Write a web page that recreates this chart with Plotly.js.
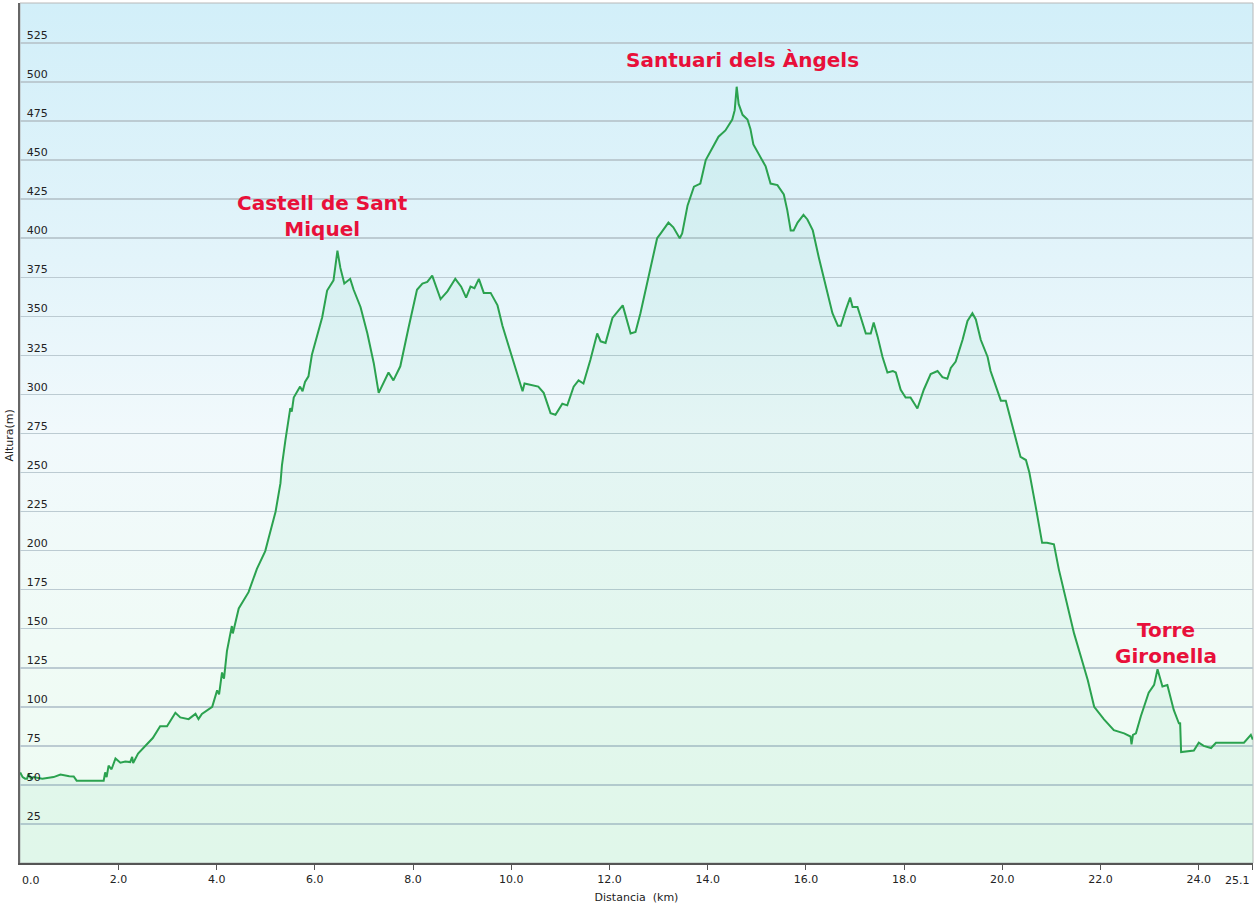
<!DOCTYPE html>
<html>
<head>
<meta charset="utf-8">
<script src="https://cdn.plot.ly/plotly-3.0.1.min.js"></script>
<style>
  html, body { margin:0; padding:0; background:#ffffff; }
  #wrap { position:relative; width:1260px; height:910px; }
  #bg { position:absolute; left:20px; top:3px; width:1233px; height:860px;
        background: linear-gradient(to bottom, #d2eff9 0%, #e3f4fa 30%, #f1f9fc 50%, #f0fbf6 75%, #edfbf1 100%); }
  #chart { position:absolute; left:0; top:0; width:1260px; height:910px; }
</style>
</head>
<body>
<div id="wrap"><div id="bg"></div><div id="chart"></div></div>
<script>
// Distance (km)
const distance = [
 0.00,0.05,0.10,0.14,0.17,0.22,0.27,0.45,0.68,0.82,1.00,1.09,1.15,1.40,1.70,1.73,1.76,1.80,1.86,1.94,
 2.04,2.14,2.24,2.28,2.30,2.40,2.55,2.70,2.85,2.99,3.16,3.26,3.43,3.57,3.63,3.70,3.91,4.01,4.05,4.11,
 4.15,4.21,4.31,4.33,4.45,4.65,4.82,4.99,5.05,5.09,5.20,5.30,5.33,5.40,5.50,5.53,5.57,5.70,5.75,5.80,
 5.87,5.94,6.04,6.15,6.25,6.28,6.35,6.38,6.46,6.52,6.60,6.72,6.79,6.93,7.07,7.20,7.30,7.40,7.50,7.60,
 7.74,7.91,8.08,8.19,8.29,8.39,8.56,8.70,8.86,8.98,9.08,9.17,9.25,9.34,9.44,9.58,9.72,9.82,10.02,10.23,
 10.27,10.55,10.66,10.80,10.90,11.04,11.14,11.27,11.37,11.47,11.61,11.75,11.82,11.92,12.06,12.27,12.43,12.53,12.63,12.77,
 12.97,13.04,13.20,13.30,13.43,13.48,13.59,13.72,13.85,13.96,14.10,14.22,14.36,14.50,14.55,14.59,14.63,14.71,14.81,14.87,
 14.93,15.00,15.08,15.18,15.28,15.42,15.55,15.62,15.69,15.75,15.83,15.95,16.03,16.14,16.26,16.40,16.54,16.65,16.71,16.81,
 16.90,16.95,17.05,17.11,17.22,17.32,17.38,17.46,17.56,17.66,17.77,17.83,17.93,18.03,18.13,18.27,18.40,18.54,18.68,18.78,
 18.88,18.95,19.05,19.19,19.29,19.39,19.46,19.56,19.70,19.76,19.87,19.97,20.07,20.14,20.24,20.37,20.48,20.55,20.68,20.81,
 20.91,21.05,21.15,21.25,21.35,21.46,21.60,21.74,21.87,22.07,22.27,22.48,22.61,22.63,22.66,22.72,22.82,22.98,23.09,23.16,
 23.26,23.36,23.49,23.60,23.62,23.64,23.90,24.00,24.10,24.25,24.35,24.65,24.92,25.06,25.10
];
// Elevation (m)
const altitude = [
 58,55,54,54,57,54,55,54,55,56.6,55.5,55.4,52.7,52.5,52.7,58,55,62.3,60,66.9,
 64.2,65,64.6,68,64,70,75,80,87.5,87.5,96.2,93.2,92.1,95.5,92.1,95.5,100,110.5,108,122,
 118,135.7,151.7,147,163,173.4,188.3,199.7,207,212.3,224.9,243.2,254.6,270.6,291.2,289,298,305,302,308,
 311.6,325.4,336.8,349.4,366.5,368,371,373,392,381,371,374,367,356,339,320,301,307,314,309,
 318,343,367,371,372,376,361,366,374,369,362,369,368,374,365,365,357,344,324,302,
 307,305,301,288,287,294,293,305,309,307,322,339,334,333,349,357,339,340,352,371,
 400,403,410,407,400,403,421,433,435,450,458,465,469,476,482,497,486,479,476,470,
 460,456,451,446,435,434,428,418,405,405,410,415,412,405,388,369,352,344,344,354,
 362,356,356,350,339,339,346,337,324,314,315,314,303,298,298,291,303,313,315,311,
 310,317,321,335,347,352,348,335,324,315,305,296,296,288,275,260,258,250,228,205,
 205,204,188,175,162,147,132,117,100,92,85,83,81,76,82,83,94,109,114,124,
 113,114,98,89,90,71,72,77,75,73.6,77,77,77,82,79
];
// Axis ticks (end labels are placed as annotations so they stay inside the page)
const xTickVals = [0.02,2,4,6,8,10,12,14,16,18,20,22,24,25.1];
const xTickText = ['','2.0','4.0','6.0','8.0','10.0','12.0','14.0','16.0','18.0','20.0','22.0','24.0',''];
const xEndLabels = ['0.0','25.1'];
const xEndVals = [0, 25.1];
const yTickVals = [25,50,75,100,125,150,175,200,225,250,275,300,325,350,375,400,425,450,475,500,525];
// Place labels
const placeNames = ['Castell de Sant<br>Miquel','Santuari dels Àngels','Torre<br>Gironella'];
const placeKm = [6.15, 14.71, 23.33];
const placeAlt = [414, 514, 141];

const trace = {
  x: distance, y: altitude, type:'scatter', mode:'lines',
  line:{color:'#2ba24f', width:2},
  fill:'tozeroy', fillcolor:'rgba(60,205,140,0.07)',
  hoverinfo:'x+y'
};

const annotations = placeNames.map((t,i)=>({
  x: placeKm[i], y: placeAlt[i], xref:'x', yref:'y', text:t, showarrow:false,
  font:{family:'DejaVu Sans, Verdana, sans-serif', size:20, color:'#e8103a', weight:'bold'},
  xanchor:'center', yanchor:'middle'
}));
annotations.push({
  x:0, y:0.497, xref:'paper', yref:'paper', xshift:-10, text:'Altura(m)', textangle:-90,
  showarrow:false, xanchor:'center', yanchor:'middle',
  font:{family:'DejaVu Sans, Verdana, sans-serif', size:11, color:'#222'}
});
xEndLabels.forEach((t,i)=>{
  annotations.push({
    x:xEndVals[i], y:0, xref:'x', yref:'paper', text:t, showarrow:false,
    xanchor: i===0 ? 'left' : 'right', yanchor:'top', yshift:-8.5, xshift: i===0 ? 0 : -1,
    font:{family:'DejaVu Sans, Verdana, sans-serif', size:11, color:'#222'}
  });
});

const layout = {
  width:1260, height:910,
  margin:{l:20, r:7, t:3, b:47, pad:0},
  paper_bgcolor:'rgba(0,0,0,0)', plot_bgcolor:'rgba(0,0,0,0)',
  showlegend:false,
  font:{family:'DejaVu Sans, Verdana, sans-serif', size:11, color:'#222'},
  xaxis:{
    range:[-0.004,25.104], tickmode:'array', tickvals:xTickVals, ticktext:xTickText,
    showgrid:false, zeroline:false, showline:true, linecolor:'#555', linewidth:2,
    ticks:'outside', ticklen:5, tickcolor:'#555', tickwidth:1,
    tickfont:{size:11, color:'#222'},
    title:{text:'Distancia&nbsp;&nbsp;(km)', font:{size:11, color:'#222'}, standoff:8}
  },
  yaxis:{
    range:[0,550.6], tickmode:'array', tickvals:yTickVals,
    showgrid:true, gridcolor:'#bccbd2', gridwidth:1.5, zeroline:false,
    showline:true, linecolor:'#666', linewidth:2,
    ticks:'', ticklabelposition:'inside top', ticklabelstandoff:5,
    tickfont:{size:11, color:'#222'}
  },
  shapes:[{type:'rect', xref:'paper', yref:'paper', x0:0, x1:1, y0:0, y1:1,
           line:{color:'#b8b8b8', width:1}, layer:'below'}],
  annotations: annotations
};

Plotly.newPlot('chart', [trace], layout, {displayModeBar:false, staticPlot:true});
</script>
</body>
</html>
